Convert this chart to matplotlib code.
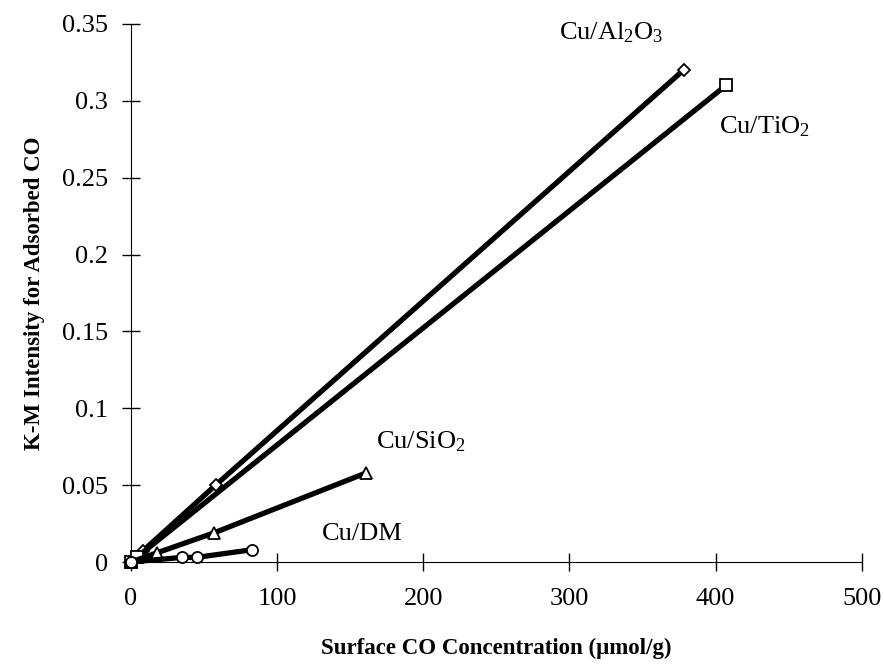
import matplotlib.pyplot as plt

plt.rcParams['font.family'] = ['Liberation Serif', 'DejaVu Serif']
plt.rcParams['mathtext.fontset'] = 'custom'
plt.rcParams['mathtext.rm'] = 'Liberation Serif'
plt.rcParams['mathtext.it'] = 'Liberation Serif:italic'
plt.rcParams['mathtext.bf'] = 'Liberation Serif:bold'

al2o3_x = [0, 8, 58, 378]
al2o3_y = [0, 0.007, 0.05, 0.32]
tio2_x = [0, 4, 407]
tio2_y = [0, 0.003, 0.31]
sio2_x = [0, 18, 57, 161]
sio2_y = [0, 0.006, 0.019, 0.058]
dm_x = [0, 35, 45, 83]
dm_y = [0, 0.003, 0.003, 0.008]

x_ticks = [0, 100, 200, 300, 400, 500]
y_ticks = [0, 0.05, 0.1, 0.15, 0.2, 0.25, 0.3, 0.35]
y_labels = ['0', '0.05', '0.1', '0.15', '0.2', '0.25', '0.3', '0.35']

fig = plt.figure(figsize=(8.84, 6.64), dpi=100)
ax = fig.add_axes([0.148, 0.1536, 0.827, 0.8103])

styl = dict(color='black', linewidth=3.8, markerfacecolor='white',
            markeredgecolor='black', markeredgewidth=1.3, clip_on=False, zorder=3)
ax.plot(al2o3_x, al2o3_y, marker='D', markersize=6, **styl)
ax.plot(tio2_x, tio2_y, marker='s', markersize=8, **styl)
ax.plot(sio2_x, sio2_y, marker='^', markersize=9, **styl)
ax.plot(dm_x, dm_y, marker='o', markersize=8, **styl)

ax.text(293, 0.344, r'Cu/Al$_\mathrm{2}$O$_\mathrm{3}$', fontsize=19, va='center')
ax.text(402, 0.283, r'Cu/TiO$_\mathrm{2}$', fontsize=19, va='center')
ax.text(168, 0.0785, r'Cu/SiO$_\mathrm{2}$', fontsize=19, va='center')
ax.text(131, 0.0185, 'Cu/DM', fontsize=19, va='center')

ax.set_xlim(0, 500)
ax.set_ylim(0, 0.35)
ax.set_xticks(x_ticks)
ax.set_yticks(y_ticks)
ax.set_yticklabels(y_labels)
ax.spines['top'].set_visible(False)
ax.spines['right'].set_visible(False)
ax.tick_params(direction='inout', length=13, width=1, labelsize=19, pad=10)
ax.tick_params(axis='x', pad=12)

ax.set_xlabel('Surface CO Concentration (μmol/g)', fontsize=16.5, fontweight='bold', labelpad=20)
ax.set_ylabel('K-M Intensity for Adsorbed CO', fontsize=16.5, fontweight='bold', labelpad=12)

fig.savefig('out.png', dpi=100)
